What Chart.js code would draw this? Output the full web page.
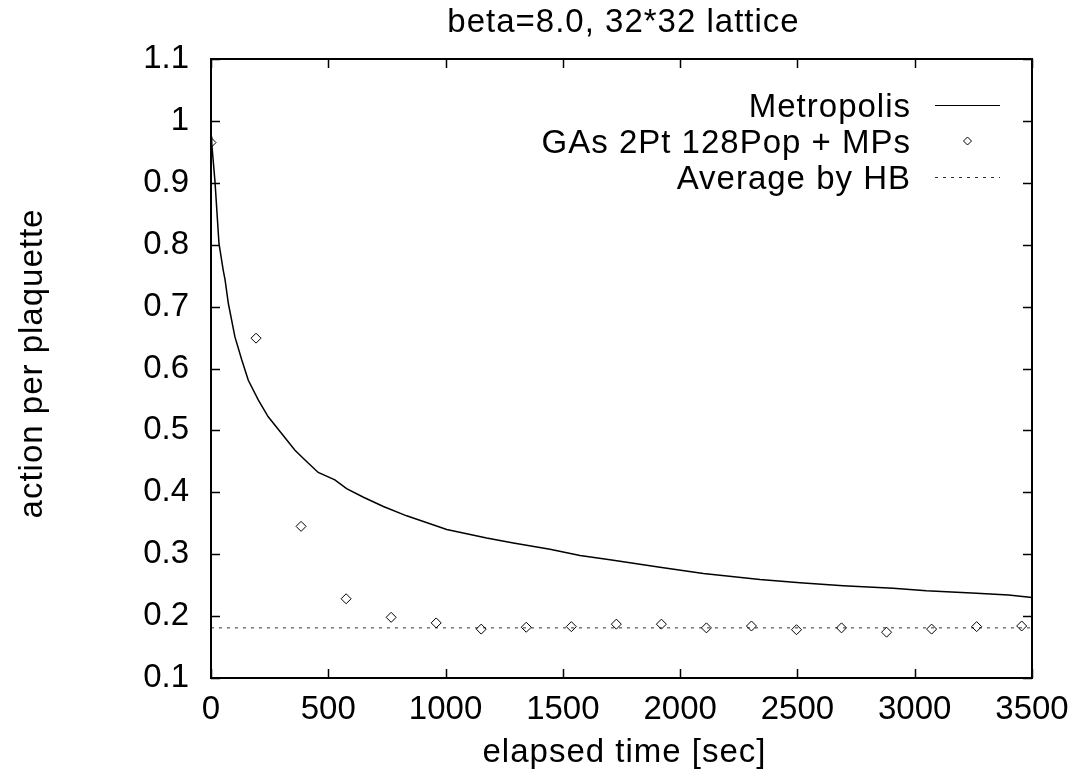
<!DOCTYPE html>
<html>
<head>
<meta charset="utf-8">
<script src="https://cdn.jsdelivr.net/npm/chart.js@4"></script>
<style>
  body { margin: 0; background: #fff; }
  canvas { display: block; }
</style>
</head>
<body>
<canvas id="plaquetteChart" width="1081" height="776"></canvas>
<script>
// Metropolis curve
const metroTime = [0, 3, 17, 34, 52, 60, 74, 102, 131, 159, 202, 244, 301, 358, 393, 457, 528, 578, 650, 735, 834,
    1005, 1175, 1289, 1445, 1573, 1701, 1914, 2099, 2340, 2511, 2695, 2908, 3050, 3264, 3400, 3500];
const metroAction = [0.975, 0.964, 0.902, 0.802, 0.759, 0.743, 0.705, 0.651, 0.614, 0.581, 0.549, 0.522, 0.495, 0.468, 0.455, 0.432, 0.42, 0.406, 0.392, 0.377, 0.362,
    0.34, 0.326, 0.318, 0.308, 0.298, 0.291, 0.279, 0.269, 0.259, 0.254, 0.249, 0.245, 0.241, 0.237, 0.234, 0.23];

// GAs 2Pt 128Pop + MPs
const gaTime = [0, 192, 384, 576, 768, 960, 1152, 1344, 1536, 1728, 1920, 2112, 2304, 2496, 2688, 2880, 3072, 3264, 3456];
const gaAction = [0.965, 0.649, 0.345, 0.228, 0.198, 0.189, 0.179, 0.182, 0.183, 0.187, 0.187, 0.181, 0.184, 0.178, 0.181, 0.174, 0.179, 0.183, 0.184];

// Average by HB
const hbTime = [0, 3500];
const hbAction = [0.181, 0.181];

// tick labels
const xTicks = [0, 500, 1000, 1500, 2000, 2500, 3000, 3500];
const yTicks = [0.1, 0.2, 0.3, 0.4, 0.5, 0.6, 0.7, 0.8, 0.9, 1.0, 1.1];

const titleText = 'beta=8.0, 32*32 lattice';
const xTitle = 'elapsed time [sec]';
const yTitle = 'action per plaquette';

const FONT = "'Liberation Sans', Arial, Helvetica, sans-serif";

function toPoints(xs, ys) {
    return xs.map((x, i) => ({ x: x, y: ys[i] }));
}

// gnuplot style frame with inward tick marks
const framePlugin = {
    id: 'frame',
    afterDatasetsDraw(chart) {
        const ctx = chart.ctx;
        const a = chart.chartArea;
        const xs = chart.scales.x, ys = chart.scales.y;
        ctx.save();
        ctx.strokeStyle = '#000';
        ctx.lineWidth = 1.5;
        ctx.beginPath();
        xs.ticks.forEach(t => {
            const px = Math.round(xs.getPixelForValue(t.value)) + 0.5;
            ctx.moveTo(px, a.bottom); ctx.lineTo(px, a.bottom - 9);
            ctx.moveTo(px, a.top); ctx.lineTo(px, a.top + 9);
        });
        ys.ticks.forEach(t => {
            const py = Math.round(ys.getPixelForValue(t.value)) + 0.5;
            ctx.moveTo(a.left, py); ctx.lineTo(a.left + 9, py);
            ctx.moveTo(a.right, py); ctx.lineTo(a.right - 9, py);
        });
        ctx.stroke();
        ctx.lineWidth = 2;
        ctx.strokeRect(a.left, a.top, a.right - a.left, a.bottom - a.top);
        ctx.restore();
    }
};

// title and axis titles (slightly spaced, like the original)
const textPlugin = {
    id: 'texts',
    afterDraw(chart) {
        const ctx = chart.ctx;
        const a = chart.chartArea;
        const cx = (a.left + a.right) / 2;
        ctx.save();
        ctx.font = '33px ' + FONT;
        ctx.letterSpacing = '1px';
        ctx.fillStyle = '#000';
        ctx.textAlign = 'center';
        ctx.textBaseline = 'alphabetic';
        ctx.fillText(titleText, cx + 2, 32);
        ctx.fillText(xTitle, cx + 3, 762);
        ctx.translate(41.5, (a.top + a.bottom) / 2 - 5);
        ctx.rotate(-Math.PI / 2);
        ctx.fillText(yTitle, 0, 0);
        ctx.restore();
    }
};

// legend inside the plot, text on the left, sample on the right
const keyPlugin = {
    id: 'key',
    afterDraw(chart) {
        const ctx = chart.ctx;
        const textRight = 910, x0 = 935, x1 = 1000;
        const rows = [117, 153, 189];
        ctx.save();
        ctx.font = '33px ' + FONT;
        ctx.letterSpacing = '1px';
        ctx.fillStyle = '#000';
        ctx.textAlign = 'right';
        ctx.textBaseline = 'alphabetic';
        chart.data.datasets.forEach((ds, i) => {
            const y = rows[i];
            ctx.fillText(ds.label, textRight + 1, y);
            const sy = y - 12;
            ctx.strokeStyle = ds.borderColor;
            ctx.lineWidth = 1;
            if (ds.showLine === false) {
                const cx = (x0 + x1) / 2;
                ctx.beginPath();
                ctx.moveTo(cx, sy - 4); ctx.lineTo(cx + 4, sy); ctx.lineTo(cx, sy + 4); ctx.lineTo(cx - 4, sy);
                ctx.closePath();
                ctx.stroke();
            } else {
                ctx.setLineDash(ds.borderDash || []);
                ctx.beginPath();
                ctx.moveTo(x0, sy + 0.5); ctx.lineTo(x1, sy + 0.5);
                ctx.stroke();
                ctx.setLineDash([]);
            }
        });
        ctx.restore();
    }
};

const ctx = document.getElementById('plaquetteChart').getContext('2d');
const plaquetteChart = new Chart(ctx, {
    type: 'scatter',
    data: {
        datasets: [{
            label: 'Metropolis',
            data: toPoints(metroTime, metroAction),
            showLine: true,
            borderColor: '#000',
            borderWidth: 1.5,
            pointRadius: 0,
            tension: 0
        }, {
            label: 'GAs 2Pt 128Pop + MPs',
            data: toPoints(gaTime, gaAction),
            showLine: false,
            borderColor: '#000',
            backgroundColor: 'rgba(0,0,0,0)',
            pointStyle: 'rectRot',
            pointRadius: 5,
            pointBorderWidth: 1
        }, {
            label: 'Average by HB',
            data: toPoints(hbTime, hbAction),
            showLine: true,
            borderColor: '#333',
            borderWidth: 1,
            borderDash: [3, 5],
            pointRadius: 0
        }]
    },
    options: {
        responsive: false,
        animation: false,
        layout: { padding: { top: 59, right: 49 } },
        plugins: {
            legend: { display: false },
            tooltip: { enabled: false },
            title: { display: false }
        },
        scales: {
            x: {
                type: 'linear',
                min: 0,
                max: 3500,
                afterBuildTicks: s => { s.ticks = xTicks.map(v => ({ value: v })); },
                afterFit: s => { s.height = 98; s.paddingLeft = 0; s.paddingRight = 0; },
                grid: { display: false, drawTicks: false },
                border: { display: false },
                ticks: {
                    color: '#000',
                    font: { family: FONT, size: 33 },
                    padding: 12,
                    maxRotation: 0,
                    callback: v => String(v)
                }
            },
            y: {
                min: 0.1,
                max: 1.1,
                afterBuildTicks: s => { s.ticks = yTicks.map(v => ({ value: v })); },
                afterFit: s => { s.width = 211; s.paddingTop = 0; s.paddingBottom = 0; },
                grid: { display: false, drawTicks: false },
                border: { display: false },
                ticks: {
                    color: '#000',
                    font: { family: FONT, size: 33 },
                    padding: 22,
                    callback: v => String(+v.toFixed(1))
                }
            }
        }
    },
    plugins: [framePlugin, textPlugin, keyPlugin]
});
</script>
</body>
</html>
